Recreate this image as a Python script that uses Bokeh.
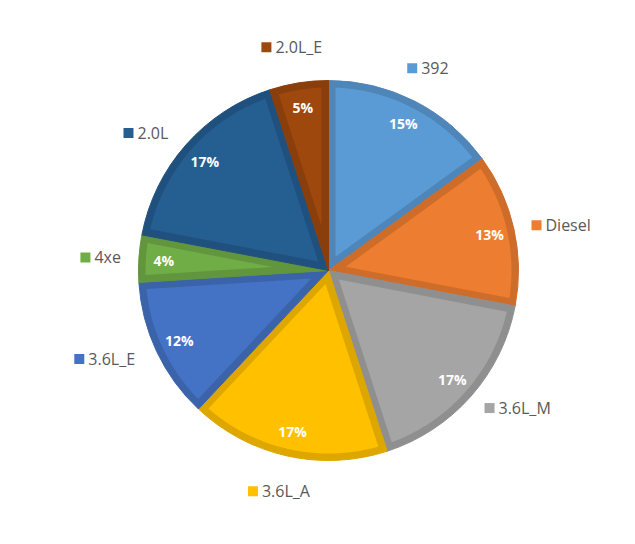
import numpy as np
from bokeh.plotting import figure
from bokeh.models import Range1d, ColumnDataSource
from bokeh.core.properties import value
from bokeh.embed import file_html
from bokeh.resources import INLINE

# ---- data ----
names = ["392", "Diesel", "3.6L_M", "3.6L_A", "3.6L_E", "4xe", "2.0L", "2.0L_E"]
shares = [15, 13, 17, 17, 12, 4, 17, 5]
colors = ["#5B9BD5", "#ED7D31", "#A5A5A5", "#FFC000", "#4472C4", "#70AD47", "#255E91", "#9E480E"]

# ---- layout (pixels) ----
W, H = 635, 544
S = 190.0          # pixels per data unit (pie radius = 1)
CX, CY = 328, 270  # pie centre in pixels from top-left
BEVEL = 7 / S

def darker(hexc, f=0.87):
    r, g, b = (int(hexc[i:i + 2], 16) for i in (1, 3, 5))
    return "#%02X%02X%02X" % (int(r * f), int(g * f), int(b * f))

dark = [darker(c) for c in colors]

p = figure(width=W, height=H,
           x_range=Range1d(-CX / S, (W - CX) / S),
           y_range=Range1d(-(H - CY) / S, CY / S),
           output_backend="svg", toolbar_location=None, min_border=0)
p.axis.visible = False
p.grid.visible = False
p.outline_line_color = None
p.background_fill_color = "white"

frac = np.array(shares, dtype=float) / sum(shares)
t1 = 2 * np.pi * np.cumsum(frac)      # clockwise from 12 o'clock
t0 = t1 - 2 * np.pi * frac
tm = (t0 + t1) / 2

# outer (darker) wedges
src = ColumnDataSource(dict(start=np.pi / 2 - t1, end=np.pi / 2 - t0, fill=dark))
p.wedge(x=0, y=0, radius=1, start_angle="start", end_angle="end",
        fill_color="fill", line_color="fill", line_width=1, source=src)

# inner (lighter) inset regions -> bevel look
xs, ys = [], []
for a0, a1, m in zip(t0, t1, tm):
    half = (a1 - a0) / 2
    v = BEVEL / np.sin(half)
    rp = 1 - BEVEL
    da = np.arcsin(BEVEL / rp)
    ts = np.linspace(a0 + da, a1 - da, 120)
    xs.append([v * np.sin(m)] + list(rp * np.sin(ts)))
    ys.append([v * np.cos(m)] + list(rp * np.cos(ts)))
p.patches(xs, ys, fill_color=colors, line_color=None)

# percentage labels
rl = 165 / S
p.text(x=rl * np.sin(tm), y=rl * np.cos(tm), text=[f"{s}%" for s in shares],
       text_color="white", text_font=value("Open Sans"), text_font_style="bold",
       text_font_size="14px", text_align="center", text_baseline="middle")

# outside category labels with colour key (anchored by side, like Excel)
r_side, r_tb = 208 / S, 218 / S
hh = 16 / S
lx, ly, sqx = [], [], []
for n, m in zip(names, tm):
    w = (15 + 8.5 * len(n)) / S
    deg = np.degrees(m) % 360
    if 45 <= deg < 135:          # right side: left-middle anchor
        px, py = r_side * np.sin(m), r_side * np.cos(m)
        left, cy = px, py
    elif 225 <= deg < 315:       # left side: right-middle anchor
        px, py = r_side * np.sin(m), r_side * np.cos(m)
        left, cy = px - w, py
    elif deg < 45 or deg >= 315:  # top: bottom-centre anchor
        px, py = r_tb * np.sin(m), r_tb * np.cos(m)
        left, cy = px - w / 2, py + hh / 2
    else:                         # bottom: top-centre anchor
        px, py = r_tb * np.sin(m), r_tb * np.cos(m)
        left, cy = px - w / 2, py - hh / 2
    sqx.append(left + 5 / S)
    lx.append(left + 14 / S)
    ly.append(cy)
p.scatter(x=sqx, y=ly, marker="square", size=10, fill_color=colors, line_color=None)
p.text(x=lx, y=ly, text=names, text_color="#595959", text_font=value("Open Sans"),
       text_font_size="16px", text_align="left", text_baseline="middle")

open("out.html", "w").write(file_html(p, INLINE))
